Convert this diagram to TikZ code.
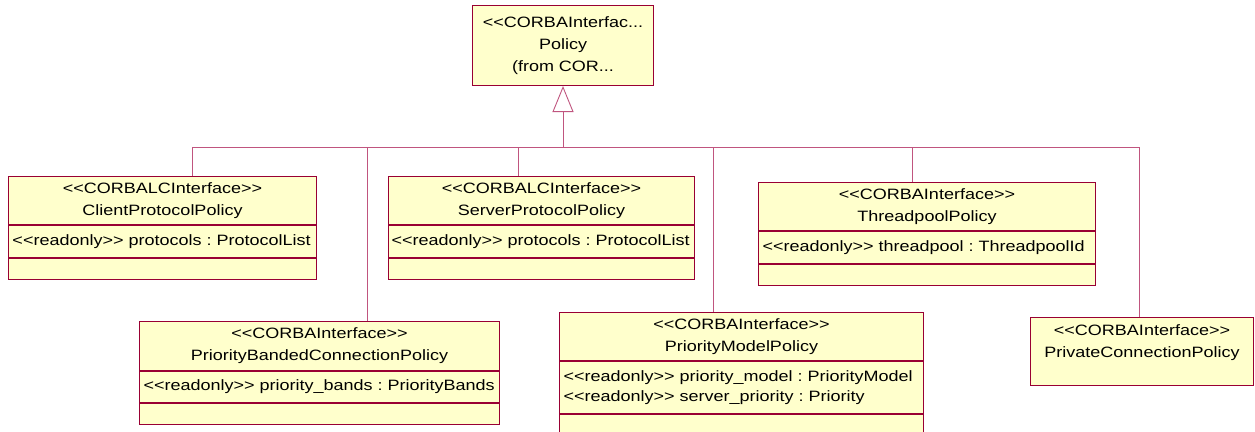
\documentclass[tikz,border=0pt]{standalone}
\usepackage{fontspec}
\newfontfamily\umlfont[FakeStretch=1.2]{Liberation Sans}
\usepackage{tikz}
\usetikzlibrary{positioning, calc, arrows.meta}

\definecolor{umlfill}{HTML}{FFFFCC}
\definecolor{umlline}{HTML}{990033}
\definecolor{umlwire}{HTML}{C0557F}
\newcommand{\attrfont}{\umlfont\fontsize{15}{20}\selectfont\frenchspacing\hyphenpenalty=10000\relax}

\begin{document}
\begin{tikzpicture}[x=1pt, y=-1pt, node distance=0pt,
    head/.style={draw=umlline, fill=umlfill, line width=1pt, align=center, inner sep=0pt,
        anchor=north west, minimum height=48pt, font=\umlfont\fontsize{15}{22}\selectfont},
    attr/.style={draw=umlline, fill=umlfill, line width=1pt, align=left, inner xsep=4pt,
        inner ysep=0pt, minimum height=32pt, font=\attrfont},
    oper/.style={draw=umlline, fill=umlfill, line width=1pt, inner sep=0pt, minimum height=21pt},
    wire/.style={draw=umlwire, line width=0.9pt}]
        \useasboundingbox (0,0) rectangle (1255,431);

        % parent interface
        \node[head, minimum width=181pt, minimum height=80pt] (policy) at (472,5)
            {<<CORBAInterfac...\\Policy\\(from COR...};
        \coordinate (bus) at ($(policy.south)+(0,61)$);

        % first row
        \node[head, minimum width=308pt] (clienthead) at (8,176)
            {<<CORBALCInterface>>\\ClientProtocolPolicy};
        \node[attr, text width=300pt, below=of clienthead] (clientattr)
            {<<readonly>> protocols : ProtocolList};
        \node[oper, minimum width=308pt, below=of clientattr] (clientoper) {};

        \node[head, minimum width=306pt] (serverhead) at (388,176)
            {<<CORBALCInterface>>\\ServerProtocolPolicy};
        \node[attr, text width=300pt, inner xsep=3pt, below=of serverhead] (serverattr)
            {<<readonly>> protocols : ProtocolList};
        \node[oper, minimum width=306pt, below=of serverattr] (serveroper) {};

        \node[head, minimum width=337pt] (threadhead) at (758,182)
            {<<CORBAInterface>>\\ThreadpoolPolicy};
        \node[attr, text width=329pt, below=of threadhead] (threadattr)
            {<<readonly>> threadpool : ThreadpoolId};
        \node[oper, minimum width=337pt, below=of threadattr] (threadoper) {};

        % second row
        \node[head, minimum width=360pt, minimum height=49pt] (bandedhead) at (139,321)
            {<<CORBAInterface>>\\PriorityBandedConnectionPolicy};
        \node[attr, text width=352pt, minimum height=31pt, below=of bandedhead] (bandedattr)
            {<<readonly>> priority\_bands : PriorityBands};
        \node[oper, minimum width=360pt, below=of bandedattr] (bandedoper) {};

        \node[head, minimum width=364pt] (modelhead) at (559,312)
            {<<CORBAInterface>>\\PriorityModelPolicy};
        \node[attr, text width=356pt, minimum height=52pt, below=of modelhead] (modelattr)
            {<<readonly>> priority\_model : PriorityModel\\<<readonly>> server\_priority : Priority};
        \node[oper, minimum width=364pt, below=of modelattr] (modeloper) {};

        \node[head, minimum width=223pt, minimum height=68pt] (private) at (1030,317) {};
        \node[head, draw=none, fill=none, anchor=north, minimum height=26pt, inner ysep=7pt]
            (privatename) at (private.north) {<<CORBAInterface>>\\PrivateConnectionPolicy};

        % generalisation tree
        \draw[wire] ($(clienthead.north)+(30,0)$) |- (bus);
        \draw[wire] ($(bandedhead.north)+(48,0)$) |- (bus);
        \draw[wire] ($(serverhead.north)+(-23,0)$) |- (bus);
        \draw[wire] ($(modelhead.north)+(-28,0)$) |- (bus);
        \draw[wire] ($(threadhead.north)+(-14.5,0)$) |- (bus);
        \draw[wire] ($(private.north)+(-2.5,0)$) |- (bus);
        \draw[wire, -{Triangle[width=21pt, length=26pt, fill=white]}] (bus) -- (policy.south);
    \end{tikzpicture}
\end{document}
